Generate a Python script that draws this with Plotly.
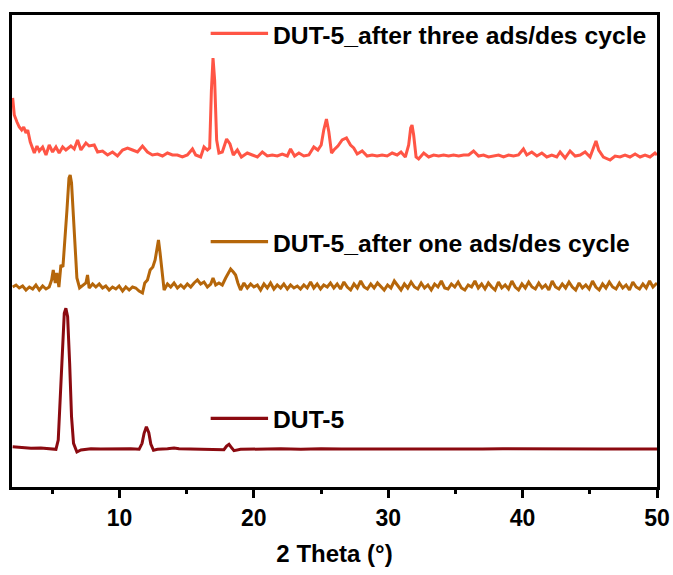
import plotly.graph_objects as go

# ---------------- data ----------------
# DUT-5_after three ads/des cycle (top trace, offset intensity, a.u.)
three_x = [2.05, 2.17, 2.37, 2.54, 2.72, 2.87, 3.04, 3.17, 3.36, 3.54, 3.66, 3.86, 4.03, 4.28, 4.53,
           4.77, 5.02, 5.27, 5.51, 5.77, 6.01, 6.38, 6.63, 6.88, 7.13, 7.50, 7.74, 8.12, 8.37, 8.74,
           9.11, 9.48, 9.85, 10.23, 10.60, 10.97, 11.34, 11.71, 12.08, 12.45, 12.83, 13.20, 13.57,
           13.94, 14.31, 14.68, 15.05, 15.43, 15.67, 16.04, 16.29, 16.54, 16.71, 16.84, 16.96, 17.08,
           17.23, 17.40, 17.65, 17.97, 18.22, 18.47, 18.77, 19.07, 19.51, 19.88, 20.26, 20.63, 21.00,
           21.37, 21.74, 22.11, 22.49, 22.73, 23.03, 23.35, 23.72, 24.09, 24.46, 24.76, 25.01, 25.20,
           25.40, 25.58, 25.78, 25.95, 26.25, 26.57, 26.89, 27.19, 27.43, 27.69, 28.06, 28.43, 28.80,
           29.17, 29.54, 29.92, 30.29, 30.66, 30.95, 31.27, 31.52, 31.67, 31.77, 31.89, 32.07, 32.26,
           32.64, 33.01, 33.38, 33.75, 34.12, 34.49, 34.86, 35.24, 35.61, 35.98, 36.35, 36.72, 37.09,
           37.46, 37.83, 38.21, 38.58, 38.95, 39.32, 39.69, 40.06, 40.31, 40.68, 41.06, 41.43, 41.80,
           42.17, 42.54, 42.79, 43.16, 43.53, 43.91, 44.28, 44.65, 45.02, 45.27, 45.46, 45.66, 46.01,
           46.51, 46.88, 47.25, 47.62, 47.99, 48.37, 48.74, 49.11, 49.48, 49.85, 50.00]
three_y = [392, 375, 368, 363, 360, 363, 357, 360, 348, 340, 337, 344, 339, 343, 335,
           345, 338, 343, 337, 343, 340, 344, 341, 350, 340, 347, 344, 345, 338, 339,
           335, 338, 334, 340, 342, 340, 338, 344, 338, 335, 336, 334, 337,
           335, 335, 333, 335, 341, 335, 333, 343, 340, 342, 400, 432, 410,
           350, 337, 338, 351, 346, 335, 340, 333, 337, 335, 333, 338, 334,
           335, 334, 336, 334, 341, 334, 337, 334, 335, 343, 340, 345, 360,
           371, 358, 337, 340, 344, 350, 352, 345, 342, 336, 339, 334, 335,
           334, 335, 334, 337, 335, 338, 333, 345, 362, 365, 355, 333, 331,
           337, 333, 335, 334, 335, 334, 335, 334, 335, 335, 339, 334, 335,
           333, 334, 335, 333, 335, 334, 335, 341, 335, 338, 334, 337, 333,
           335, 333, 338, 332, 339, 334, 335, 338, 333, 342, 349, 340, 333,
           330, 334, 333, 335, 333, 336, 333, 335, 333, 337, 335]

# DUT-5_after one ads/des cycle (middle trace)
one_x = [2.05, 2.30, 2.54, 2.79, 3.04, 3.29, 3.54, 3.78, 4.03, 4.28, 4.53, 4.77, 4.95, 5.07, 5.22,
         5.34, 5.49, 5.64, 5.79, 5.94, 6.09, 6.24, 6.33, 6.43, 6.56, 6.68, 6.83, 7.03, 7.28, 7.50,
         7.62, 7.74, 8.00, 8.24, 8.49, 8.74, 8.98, 9.23, 9.48, 9.73, 9.97, 10.23, 10.47, 10.72,
         10.97, 11.21, 11.46, 11.71, 11.88, 12.08, 12.28, 12.48, 12.65, 12.77, 12.90, 13.02, 13.17,
         13.32, 13.57, 13.81, 14.06, 14.31, 14.56, 14.80, 15.05, 15.30, 15.55, 15.80, 16.04, 16.29,
         16.54, 16.79, 16.96, 17.16, 17.40, 17.65, 17.90, 18.10, 18.27, 18.47, 18.64, 18.81, 19.01,
         19.26, 19.51, 19.76, 20.00, 20.26, 20.50, 20.75, 21.00, 21.24, 21.49, 21.74, 21.99, 22.23,
         22.49, 22.73, 22.98, 23.23, 23.47, 23.72, 23.97, 24.22, 24.46, 24.71, 24.96, 25.20, 25.46,
         25.70, 25.95, 26.20, 26.45, 26.70, 26.95, 27.20, 27.45, 27.70, 27.95, 28.20, 28.45, 28.70,
         28.95, 29.20, 29.45, 29.70, 29.95, 30.20, 30.45, 30.70, 30.95, 31.20, 31.45, 31.70, 31.95,
         32.20, 32.45, 32.70, 32.95, 33.20, 33.45, 33.70, 33.95, 34.20, 34.45, 34.70, 34.95, 35.20,
         35.45, 35.70, 35.95, 36.20, 36.45, 36.70, 36.95, 37.20, 37.45, 37.70, 37.95, 38.20, 38.45,
         38.70, 38.95, 39.20, 39.45, 39.70, 39.95, 40.20, 40.45, 40.70, 40.95, 41.20, 41.45, 41.70,
         41.95, 42.20, 42.45, 42.70, 42.95, 43.20, 43.45, 43.70, 43.95, 44.20, 44.45, 44.70, 44.95,
         45.20, 45.45, 45.70, 45.95, 46.20, 46.45, 46.70, 46.95, 47.20, 47.45, 47.70, 47.95, 48.20,
         48.45, 48.70, 48.95, 49.20, 49.45, 49.70, 50.00]
one_y = [203, 205, 202, 204, 200, 203, 201, 205, 200, 204, 201, 203, 210, 220, 207,
         217, 203, 225, 223, 247, 280, 312, 315, 307, 277, 237, 212, 202, 205, 207,
         215, 202, 206, 203, 206, 202, 204, 200, 203, 201, 204, 199, 203, 200,
         203, 202, 199, 197, 207, 210, 220, 223, 230, 240, 250, 237, 217,
         200, 206, 203, 207, 202, 205, 202, 206, 203, 207, 210, 206, 208,
         203, 206, 212, 205, 207, 205, 212, 217, 221, 218, 215, 207, 200,
         207, 202, 206, 203, 205, 200, 206, 202, 207, 201, 205, 202, 206,
         201, 205, 202, 204, 201, 205, 202, 208, 202, 206, 201, 205, 203,
         207, 202, 206, 201, 208, 203, 200, 206, 202, 209, 203, 201, 206,
         202, 207, 203, 200, 205, 202, 209, 204, 200, 206, 202, 208, 203,
         201, 207, 202, 205, 200, 206, 203, 209, 202, 201, 206, 203, 208,
         202, 200, 205, 203, 209, 202, 206, 201, 207, 203, 200, 208, 202,
         205, 201, 209, 203, 200, 206, 202, 208, 203, 201, 207, 202, 205,
         200, 209, 203, 201, 206, 202, 208, 203, 200, 207, 202, 205, 201,
         209, 203, 200, 206, 202, 208, 203, 201, 207, 202, 205, 200, 208,
         203, 201, 206, 202, 209, 203, 207]

# DUT-5 (bottom trace)
dut_x = [2.05, 2.67, 3.41, 4.15, 4.90, 5.27, 5.44, 5.59, 5.74, 5.89, 6.01, 6.14, 6.29, 6.43, 6.58,
         6.83, 7.13, 7.87, 8.61, 9.36, 10.10, 10.84, 11.46, 11.68, 11.83, 12.00, 12.18, 12.33,
         12.53, 12.83, 13.57, 14.06, 14.43, 15.05, 16.04, 17.03, 17.77, 17.97, 18.15, 18.32, 18.52,
         19.01, 20.5, 22.0, 23.5, 25.0, 26.5, 28.0, 29.5, 31.0, 32.5, 34.0, 35.5, 37.0, 38.5, 40.0,
         41.5, 43.0, 44.5, 46.0, 47.5, 49.0, 50.0]
dut_y = [43.3, 42.7, 41.7, 42.0, 41.3, 40.7, 50.0, 90.0, 140.0, 176.7, 181.7, 173.3, 126.7, 73.3, 46.7,
         38.0, 40.0, 41.3, 41.0, 41.3, 41.0, 41.3, 40.7, 46.7, 56.7, 63.3, 57.3, 46.0,
         39.7, 40.7, 41.3, 42.0, 41.3, 41.0, 40.7, 40.7, 40.3, 44.0, 45.7, 42.7, 39.3,
         40.7, 41.0, 41.2, 40.8, 41.3, 41.0, 40.9, 41.2, 41.0, 40.8, 41.1, 41.0, 40.9, 41.2, 41.0,
         40.8, 41.1, 41.0, 40.9, 41.1, 41.0, 41.0]

names = ["DUT-5_after three ads/des cycle", "DUT-5_after one ads/des cycle", "DUT-5"]
colors = ["#FF5545", "#B5660A", "#8B0A10"]
x_ticks = [10, 20, 30, 40, 50]
x_minor = [5, 15, 25, 35, 45]

FONT = "Liberation Sans, Arial"

# ---------------- figure ----------------
fig = go.Figure()
series = [(three_x, three_y), (one_x, one_y), (dut_x, dut_y)]
for (xs, ys), nm, col in zip(series, names, colors):
    fig.add_trace(go.Scatter(x=xs, y=ys, mode="lines", name=nm,
                             line=dict(color=col, width=3), showlegend=False))

# legend-like labels (line sample + text) placed like the original
leg_pos = [(0.961, 0.9566), (0.5197, 0.516), (0.1455, 0.142)]
for nm, col, (ly, ty) in zip(names, colors, leg_pos):
    fig.add_shape(type="line", xref="paper", yref="paper", x0=0.308, x1=0.397, y0=ly, y1=ly,
                  line=dict(color=col, width=3.2))
    fig.add_annotation(xref="paper", yref="paper", x=0.4016, y=ty, text="<b>%s</b>" % nm,
                       showarrow=False, xanchor="left", yanchor="middle",
                       font=dict(family=FONT, size=24.7, color="black"))

fig.update_layout(
    width=673, height=575,
    margin=dict(l=12, r=16, t=15, b=88),
    paper_bgcolor="white", plot_bgcolor="white",
    font=dict(family=FONT, color="black"),
)
fig.update_xaxes(range=[2, 50], tickvals=x_ticks, ticktext=["<b>%d</b>" % v for v in x_ticks],
                 ticks="outside", ticklen=8, tickwidth=2.7, tickcolor="black",
                 minor=dict(tickvals=x_minor, ticks="outside", ticklen=4,
                            tickwidth=2.7, tickcolor="black"),
                 showline=True, linewidth=2.8, linecolor="black", mirror=True,
                 showgrid=False, zeroline=False, automargin=False,
                 tickfont=dict(size=23, family=FONT),
                 title=dict(text="<b>2 Theta (°)</b>", font=dict(size=24, family=FONT), standoff=16))
fig.update_yaxes(range=[3, 475], showticklabels=False, ticks="",
                 showline=True, linewidth=2.8, linecolor="black", mirror=True,
                 showgrid=False, zeroline=False, automargin=False)

fig.write_html("out.html")
